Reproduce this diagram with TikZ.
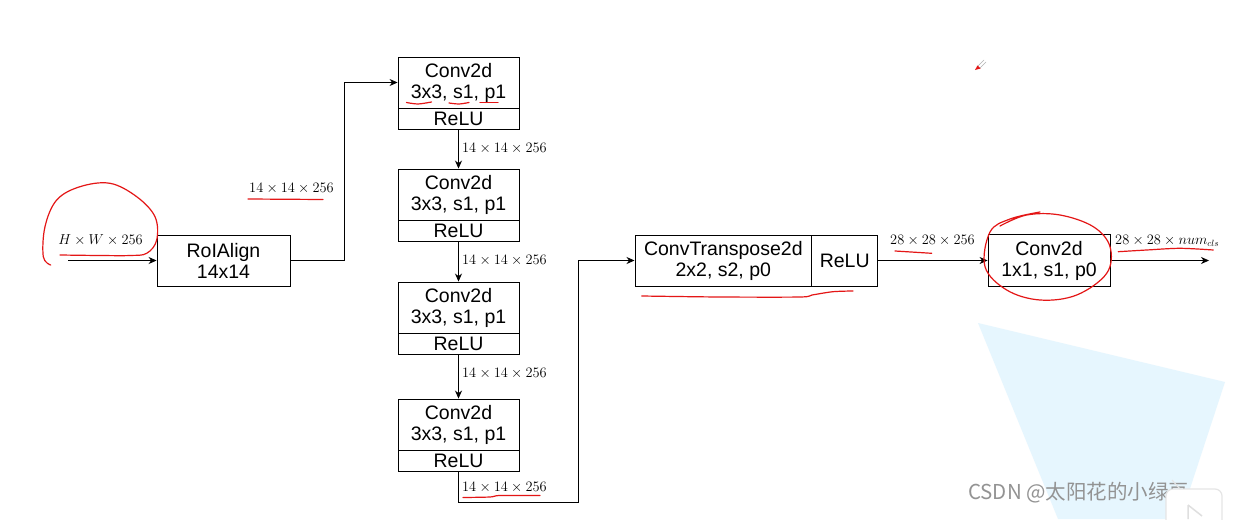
\documentclass[tikz,border=0pt]{standalone}
\usepackage{fontspec}
\setmainfont{Liberation Sans}
\newfontfamily\cjk{Noto Sans CJK SC}
\usetikzlibrary{arrows.meta}
\definecolor{annot}{RGB}{228,22,22}
\definecolor{paleblue}{RGB}{230,246,254}
\begin{document}
\begin{tikzpicture}[x=1pt,y=-1pt,
  box/.style={draw,line width=0.9pt,inner sep=0pt,align=center,font=\fontsize{19.5}{21}\selectfont},
  convbox/.style={box,minimum width=121pt,minimum height=51pt},
  relubox/.style={box,minimum width=121pt,minimum height=20.5pt,anchor=north},
  lab/.style={inner sep=0pt,font=\fontsize{13.3}{15}\selectfont},
  conn/.style={line width=0.8pt,-{Stealth[length=8pt,width=7pt]}},
  redline/.style={annot,line width=1.2pt,line cap=round,line join=round}
]
\useasboundingbox (0,0) rectangle (1246,519);
\fill[white] (0,0) rectangle (1246,519);
% pale blue shape
\fill[paleblue] (978,323) -- (1225,382) -- (1180,519) -- (1058,519) -- cycle;

% boxes
\node[box,minimum width=133pt,minimum height=51pt] (roi) at (223.5,260.5) {RoIAlign\\14x14};

\node[convbox] (c1) at (458.5,82.5) {Conv2d\\3x3, s1, p1};
\node[relubox] (r1) at (c1.south) {ReLU};
\node[convbox] (c2) at (458.5,194.5) {Conv2d\\3x3, s1, p1};
\node[relubox] (r2) at (c2.south) {ReLU};
\node[convbox] (c3) at (458.5,307.5) {Conv2d\\3x3, s1, p1};
\node[relubox] (r3) at (c3.south) {ReLU};
\node[convbox] (c4) at (458.5,424.5) {Conv2d\\3x3, s1, p1};
\node[relubox] (r4) at (c4.south) {ReLU};

\node[box,minimum width=176.7pt,minimum height=51pt] (ct) at (723.3,260.5) {ConvTranspose2d\\2x2, s2, p0};
\node[box,minimum width=66pt,minimum height=51pt] (ctr) at (844.7,260.5) {ReLU};

\node[box,minimum width=122pt,minimum height=51.5pt] (c5) at (1049,260.5) {Conv2d\\1x1, s1, p0};

% connectors
\coordinate (in) at (68,260.5);
\coordinate (k2) at (578,502);
\coordinate (out) at (1209,260.5);
\draw[conn] (in) -- (roi.west);
\draw[conn] (roi.east) -- ++(54,0) |- (c1.west);
\draw[conn] (r1.south) -- (c2.north);
\draw[conn] (r2.south) -- (c3.north);
\draw[conn] (r3.south) -- (c4.north);
\draw[conn] (r4.south) |- (k2) |- (ct.west);
\draw[conn] (ctr.east) -- (c5.west);
\draw[conn] (c5.east) -- (out);

% labels
\node[lab] (l0) at (100.5,240) {$H\times W\times256$};
\node[lab] (l1) at (291.5,188) {$14\times14\times256$};
\node[lab,anchor=west] (l2) at (462,148) {$14\times14\times256$};
\node[lab,anchor=west] (l3) at (462,260) {$14\times14\times256$};
\node[lab,anchor=west] (l4) at (462,373) {$14\times14\times256$};
\node[lab,anchor=west] (l5) at (462,487) {$14\times14\times256$};
\node[lab] (l6) at (932.5,240) {$28\times28\times256$};
\node[lab,anchor=west] (l7) at (1115,240.5) {$28\times28\times num_{cls}$};

% red annotations
\draw[redline] plot[smooth,tension=0.6] coordinates {(50.7,265) (43.3,256.7) (45,226.7) (56.7,200) (80,186.7) (110,183.3) (136.7,196.7) (155,216.7) (156.7,240) (146.7,253.3) (130,255.5) (100,255.5) (60,255)};
\draw[redline] (248,199) -- (323,199.5);
\draw[redline] plot[smooth] coordinates {(406.5,102.5) (418,104) (431.5,102)};
\draw[redline] plot[smooth] coordinates {(449,103) (459,104) (469,102.5)};
\draw[redline] (480,102.5) -- (498,102.5);
\draw[redline] plot[smooth] coordinates {(463,497.5) (490,497) (500,495.5) (540,495.5)};
\draw[redline] plot[smooth] coordinates {(641.7,296) (720,297) (800,297) (812,295) (833,291.7) (853,291)};
\draw[redline] (895,251) -- (931.7,253.3);
\draw[redline] plot[smooth,tension=0.6] coordinates {(1040,212) (1010,219) (990,232) (985,266.7) (1006.7,290) (1040,300) (1076.7,295) (1106.7,273.3) (1110,246.7) (1093.3,226.7) (1060,215) (1026.7,215) (1000,226)};
\draw[redline] plot[smooth] coordinates {(1118.3,251.7) (1146.7,250) (1180,248.3) (1213.3,250)};
% pen cursor
\draw[gray!60,line width=0.6pt] (984,60) -- (977,67) (986,62) -- (979,69);
\fill[annot] (975,70) -- (977.5,65.5) -- (980.5,68.5) -- cycle;

% watermark
\node[anchor=base west,inner sep=0pt,text=gray!85,font=\cjk\fontsize{20.5}{22}\selectfont] (wm) at (968,499) {CSDN @太阳花的小绿豆};
% play icon
\draw[gray!20,line width=1.2pt,fill=white,rounded corners=7pt] (1166,525) -- (1166,489) -- (1222,489) -- (1222,525);
\draw[gray!20,line width=1.2pt] (1180,489) -- (1172,480);
\draw[gray!25,line width=1.5pt,line join=round] (1188,505) -- (1188,519) (1188,505) -- (1202,516);
\end{tikzpicture}
\end{document}
